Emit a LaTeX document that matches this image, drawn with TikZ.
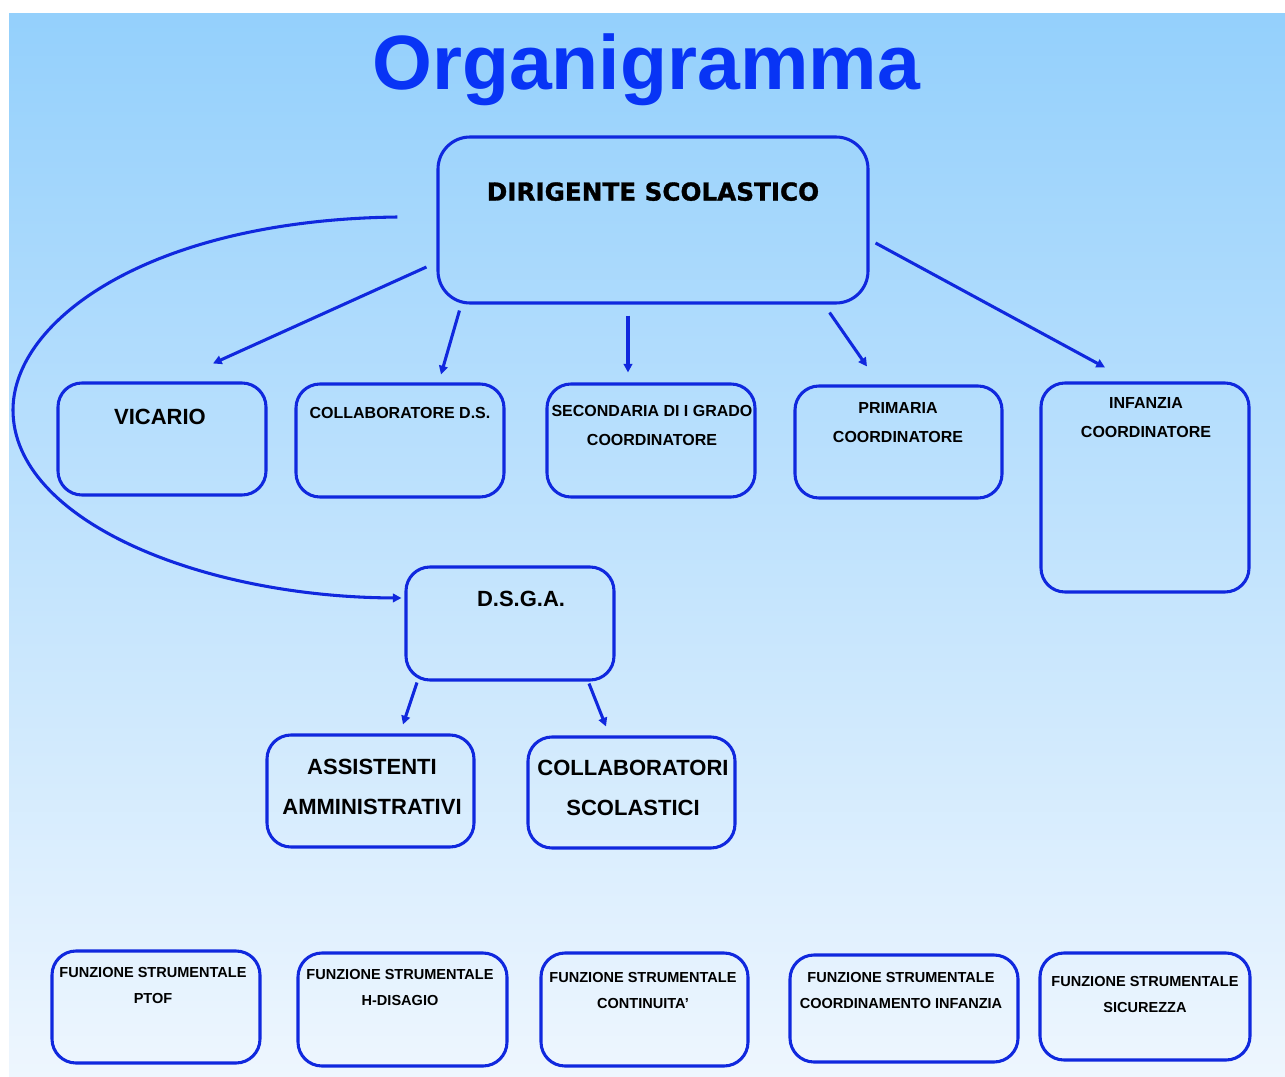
\documentclass[tikz,border=0pt]{standalone}
\usepackage{fontspec}
\setmainfont{Liberation Sans}
\newfontfamily\blackfont{DejaVu Sans}[BoldFeatures={FakeBold=1.2}]
\usetikzlibrary{arrows.meta}
\definecolor{bgtop}{RGB}{148,208,252}
\definecolor{bgbot}{RGB}{238,246,254}
\definecolor{lineblue}{RGB}{16,40,222}
\definecolor{titleblue}{RGB}{8,52,245}
\begin{document}
\begin{tikzpicture}[x=0.75pt,y=-0.75pt,
  box/.style={draw=lineblue, line width=2.3pt, rounded corners=18pt, inner sep=0pt},
  lbl/.style={anchor=north, inner sep=0pt, align=center, text=black},
  arr/.style={draw=lineblue, line width=2.3pt, -{Triangle[length=6.5pt,width=6.5pt]}},
  smalltxt/.style={font=\bfseries\fontsize{12}{21.75}\selectfont},
  bigtxt/.style={font=\bfseries\fontsize{16.5}{30}\selectfont},
  tinytxt/.style={font=\bfseries\fontsize{10.9}{19.5}\selectfont}]
\useasboundingbox (0,0) rectangle (1285,1077);
\shade[top color=bgtop, bottom color=bgbot] (9,14) rectangle (1285,1077);

\node[font=\bfseries\fontsize{57.75}{60}\selectfont, text=titleblue, anchor=base, inner sep=0pt] (title) at (646,90) {Organigramma};

% boxes
\node[box, rounded corners=24pt, minimum width=322.5pt, minimum height=124.5pt] (dir) at (653,220) {};
\node[box, minimum width=156pt, minimum height=84pt] (vic) at (162,439) {};
\node[box, minimum width=156pt, minimum height=84.75pt] (col) at (400,440.5) {};
\node[box, minimum width=156pt, minimum height=84.75pt] (sec) at (651,440.5) {};
\node[box, minimum width=155.25pt, minimum height=84pt] (pri) at (898.5,442) {};
\node[box, minimum width=156pt, minimum height=156.75pt] (inf) at (1145,487.5) {};
\node[box, minimum width=156pt, minimum height=84.75pt] (dsga) at (510,623.5) {};
\node[box, minimum width=155.25pt, minimum height=84pt] (ass) at (370.5,791) {};
\node[box, minimum width=155.25pt, minimum height=83.25pt] (cs) at (631.5,792.5) {};
\node[box, minimum width=156pt, minimum height=84pt] (f1) at (156,1007) {};
\node[box, minimum width=156.75pt, minimum height=84.75pt] (f2) at (402.5,1009.5) {};
\node[box, minimum width=155.25pt, minimum height=84.75pt] (f3) at (644.5,1009.5) {};
\node[box, minimum width=171pt, minimum height=80.25pt] (f4) at (904,1008.5) {};
\node[box, minimum width=157.5pt, minimum height=80.25pt] (f5) at (1145,1006.5) {};

% labels
\node[lbl, font=\blackfont\bfseries\fontsize{18.5}{20}\selectfont] (dirT) at (653,182) {DIRIGENTE SCOLASTICO};
\node[lbl, bigtxt] (vicT) at (160,409) {VICARIO};
\node[lbl, smalltxt] (colT) at (400,407) {COLLABORATORE D.S.};
\node[lbl, smalltxt] (secT) at (652,405) {SECONDARIA DI I GRADO\\COORDINATORE};
\node[lbl, smalltxt] (priT) at (898,402) {PRIMARIA\\COORDINATORE};
\node[lbl, smalltxt] (infT) at (1146,397) {INFANZIA\\COORDINATORE};
\node[lbl, bigtxt] (dsgaT) at (521,591) {D.S.G.A.};
\node[lbl, bigtxt] (assT) at (372,759) {ASSISTENTI\\AMMINISTRATIVI};
\node[lbl, bigtxt] (csT) at (633,760) {COLLABORATORI\\SCOLASTICI};
\node[lbl, tinytxt] (f1T) at (153,967) {FUNZIONE STRUMENTALE\\PTOF};
\node[lbl, tinytxt] (f2T) at (400,969) {FUNZIONE STRUMENTALE\\H-DISAGIO};
\node[lbl, tinytxt] (f3T) at (643,972) {FUNZIONE STRUMENTALE\\CONTINUITA\char"27};
\node[lbl, tinytxt] (f4T) at (901,972) {FUNZIONE STRUMENTALE\\COORDINAMENTO INFANZIA};
\node[lbl, tinytxt] (f5T) at (1145,976) {FUNZIONE STRUMENTALE\\SICUREZZA};

% connectors
\draw[arr] ([shift={(-10,47)}]dir.west) -- ([shift={(51,-18)}]vic.north);
\draw[arr] ([shift={(23,6)}]dir.south west) -- ([shift={(41,-8)}]col.north);
\draw[arr] ([shift={(-25,11)}]dir.south) -- ([shift={(-23,-10)}]sec.north);
\draw[arr] ([shift={(-40,8)}]dir.south east) -- ([shift={(-31.5,-18)}]pri.north);
\draw[arr] ([shift={(6,23)}]dir.east) -- ([shift={(-40,-14)}]inf.north);
\draw[arr] ([shift={(-39,-3)}]dir.west) .. controls (150,220) and (13,320) .. (13,410)
  .. controls (13,520) and (200,597) .. ([shift={(-3,-25.5)}]dsga.west);
\draw[arr] ([shift={(-93,1)}]dsga.south) -- ([shift={(32.5,-9)}]ass.north);
\draw[arr] ([shift={(79,2)}]dsga.south) -- ([shift={(-25.5,-9)}]cs.north);
\end{tikzpicture}
\end{document}
